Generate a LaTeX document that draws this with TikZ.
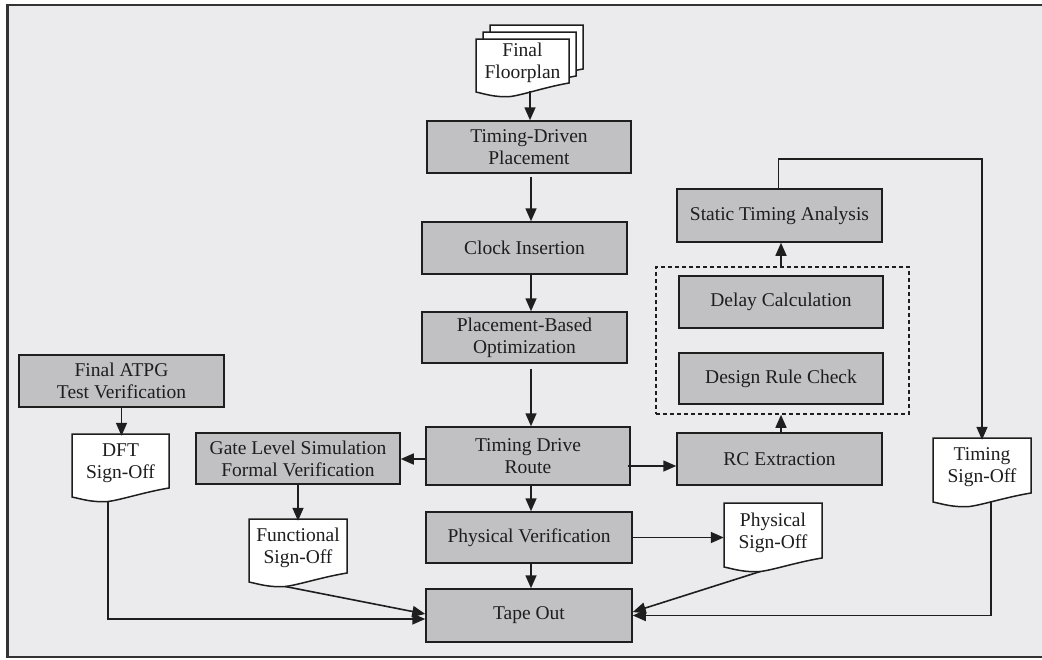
\documentclass[tikz,border=0pt]{standalone}
\usepackage{fontspec}
\setmainfont{Liberation Serif}
\usetikzlibrary{arrows.meta,backgrounds,calc}

\definecolor{panel}{HTML}{EBEBED}
\definecolor{boxfill}{HTML}{C1C1C3}
\definecolor{ink}{HTML}{1E1E1E}
\definecolor{framecol}{HTML}{333333}

\tikzset{
  label font/.style={font=\fontsize{19.5}{22}\selectfont, text=ink},
  proc/.style={draw=ink, line width=1.5pt, fill=boxfill, align=center,
    inner sep=0pt, label font},
  doctext/.style={align=center, inner sep=0pt, label font},
  docline/.style={draw=ink, line width=1.5pt, fill=white, line join=miter},
  flow/.style={draw=ink, line width=1.6pt,
    -{Triangle[length=13pt,width=11pt]}},
  groupbox/.style={draw=ink, line width=1.6pt, dash pattern=on 4pt off 3pt,
    inner sep=0pt},
}

% process box given by its corners (x1,y1) (x2,y2), y pointing down
\newcommand\procbox[6]{%
  \node[proc, minimum width={(#4-#2)*1pt}, minimum height={(#5-#3)*1pt}]
    (#1) at ({(#2+#4)/2},{(#3+#5)/2}) {#6};}

% outline of a document symbol: rectangle with a wavy lower edge
\newcommand\docpath[4]{%
  (#1,#2) -- (#3,#2) -- (#3,#4)
  .. controls ({#3-0.25*(#3-#1)},{#4+4}) and ({#1+0.5*(#3-#1)},{#4+12})
  .. ({#1+0.37*(#3-#1)},{#4+13.5})
  .. controls ({#1+0.2*(#3-#1)},{#4+14.5}) and ({#1+0.1*(#3-#1)},{#4+11})
  .. (#1,{#4+9}) -- cycle}

% document node with text; its outline goes on the background layer
\newcommand\docnode[6]{%
  \node[doctext, minimum width={(#4-#2)*1pt}, minimum height={(#5-#3)*1pt}]
    (#1) at ({(#2+#4)/2},{(#3+#5)/2+2}) {#6};
  \coordinate (#1-tail) at ({#2+0.37*(#4-#2)},{#5+13.5});
  \begin{scope}[on background layer]
    \draw[docline] \docpath{#2}{#3}{#4}{#5};
  \end{scope}}

\begin{document}
\begin{tikzpicture}[x=1pt,y=-1pt]
\useasboundingbox (0,0) rectangle (1042,659);

% page and frame
\begin{scope}[on background layer]
  \fill[white] (0,0) rectangle (1042,659);
  \fill[panel] (7.5,5) rectangle (1042,657);
  \draw[framecol, line width=2.2pt] (1043,5) -- (7.5,5) -- (7.5,657) -- (1043,657);
  % stacked sheets behind the floorplan document
  \draw[docline] \docpath{490}{25}{583}{69};
  \draw[docline] \docpath{483}{32}{576}{76};
\end{scope}

% documents
\docnode{fplan}{476}{39}{569}{83}{Final\\Floorplan}
\docnode{dft}{72}{434}{169}{488}{DFT\\Sign-Off}
\docnode{fso}{249}{519}{347}{573}{Functional\\Sign-Off}
\docnode{pso}{724}{503}{822}{558}{Physical\\Sign-Off}
\docnode{tso}{933}{438}{1031}{493}{Timing\\Sign-Off}

% process steps
\procbox{tdp}{427}{121}{631}{173}{Timing-Driven\\Placement}
\procbox{ci}{422}{222}{627}{274}{Clock Insertion}
\procbox{pbo}{422}{312}{627}{363}{Placement-Based\\Optimization}
\procbox{tdr}{426}{427}{630}{485}{Timing Drive\\Route}
\procbox{pv}{426}{512}{632}{563}{Physical Verification}
\procbox{to}{426}{589}{632}{642}{Tape Out}
\procbox{gls}{196}{433}{400}{484}{Gate Level Simulation\\Formal Verification}
\procbox{atpg}{19}{355}{224}{407}{Final ATPG\\Test Verification}
\procbox{rc}{677}{433}{882}{485}{RC Extraction}
\procbox{drc}{679}{353}{883}{404}{Design Rule Check}
\procbox{dc}{679}{276}{883}{328}{Delay Calculation}
\procbox{sta}{677}{189}{882}{242}{Static Timing Analysis}

% dashed group around delay calculation and rule check
\node[groupbox, minimum width=253pt, minimum height=147pt] (grp) at (782.5,340.5) {};

% guide columns and connector end points
\coordinate (spine) at (531,0);
\coordinate (rspine) at (781,0);
\coordinate (fplan-out) at (530,91);
\coordinate (tso-out) at (991,501);

% main flow
\draw[flow] (fplan-out) -- (fplan-out |- tdp.north);
\draw[flow] ($(spine |- tdp.south)+(0,3)$) -- (spine |- ci.north);
\draw[flow] (spine |- ci.south) -- (spine |- pbo.north);
\draw[flow] ($(spine |- pbo.south)+(0,5)$) -- (spine |- tdr.north);
\draw[flow] (spine |- tdr.south) -- (spine |- pv.north);
\draw[flow] (spine |- pv.south) -- (spine |- to.north);

% branches from the route step
\draw[flow] ($(tdr.west)+(0,3)$) coordinate (tdr-l) -- (tdr-l -| gls.east);
\draw[flow] ($(tdr.east)+(-3,10)$) coordinate (tdr-r) -- (tdr-r -| rc.west);
\draw[flow] (pv.east) -- (pv.east -| pso.west);

% timing loop
\draw[flow] (rspine |- rc.north) -- (rspine |- grp.south);
\draw[flow] (rspine |- grp.north) -- (rspine |- sta.south);
\draw[flow] ($(sta.north)+(-1,0)$) -- ++(0,-29) -| (tso.north);

% sign-off paths
\draw[flow] (atpg.south) -- (atpg.south |- dft.north);
\draw[flow] (gls.south) -- (gls.south |- fso.north);
\draw[flow] (dft-tail) |- ($(to.west)+(0,3.5)$);
\draw[flow] (fso-tail) -- ($(to.west)+(0,-1.5)$);
\draw[flow] (pso-tail) -- ($(to.east)+(0,-3.5)$);
\draw[flow] (tso-out) |- (to.east);
\end{tikzpicture}
\end{document}
